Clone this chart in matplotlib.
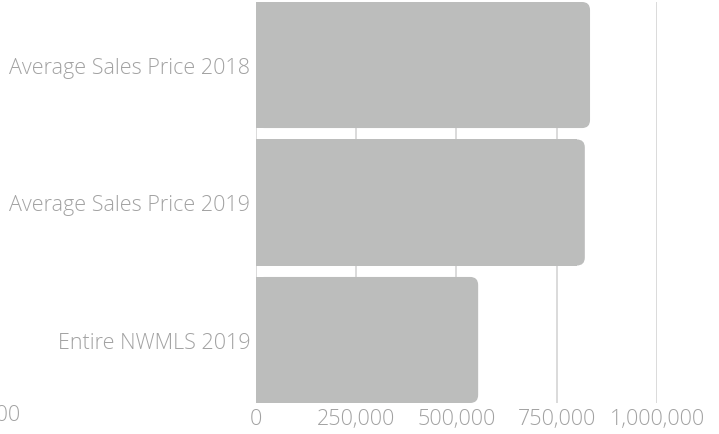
import matplotlib
matplotlib.use("Agg")
import matplotlib.pyplot as plt
from matplotlib.patches import FancyBboxPatch, Rectangle

# === Data ===
categories = ["Average Sales Price 2018", "Average Sales Price 2019", "Entire NWMLS 2019"]
values = [833000, 820000, 554000]
tick_values = [0, 250000, 500000, 750000, 1000000]
tick_labels = ["0", "250,000", "500,000", "750,000", "1,000,000"]

# === Style ===
W, H, DPI = 719, 435, 100
bar_color = "#bcbdbc"
grid_color = "#d4d4d4"
text_color = "#a2a2a2"
font = ["Open Sans", "DejaVu Sans"]
bar_height = 0.917
radius_px = 8
fs = 15.5

plt.rcParams["font.family"] = font

fig = plt.figure(figsize=(W / DPI, H / DPI), dpi=DPI)
ax = fig.add_axes([256 / W, 31 / H, 401 / W, 401 / H])
n = len(categories)
ax.set_xlim(0, 1000000)
ax.set_ylim(n - 1 + bar_height / 2, -bar_height / 2)

# pixel -> data unit conversions for rounded corners
x_per_px = 1000000 / 401
y_per_px = (n - 1 + bar_height) / 401
r = radius_px * x_per_px

for i, v in enumerate(values):
    y0 = i - bar_height / 2
    # rounded box, then a plain rectangle to square off the left corners
    box = FancyBboxPatch((0, y0), v, bar_height,
                         boxstyle=f"round,pad=0,rounding_size={r}",
                         mutation_aspect=y_per_px / x_per_px,
                         facecolor=bar_color, edgecolor="none", zorder=3)
    ax.add_patch(box)
    ax.add_patch(Rectangle((0, y0), v - r, bar_height,
                           facecolor=bar_color, edgecolor="none", zorder=3))

ax.set_xticks(tick_values)
ax.set_xticklabels(tick_labels)
ax.set_yticks(range(n))
ax.set_yticklabels(categories)
ax.tick_params(axis="both", length=0, colors=text_color, labelsize=fs)
ax.tick_params(axis="x", pad=3.5)
ax.tick_params(axis="y", pad=4)
for lab in ax.get_xticklabels() + ax.get_yticklabels():
    lab.set_fontweight("light")

ax.grid(axis="x", color=grid_color, linewidth=1.2, zorder=0)
ax.set_axisbelow(True)
for s in ax.spines.values():
    s.set_visible(False)

# clipped tick label fragment at the far left edge
fig.text(21 / W, (H - 416) / H, "1,000,000", ha="right", va="center",
         color=text_color, fontsize=fs, fontweight="light")

fig.savefig("out.png", dpi=DPI)
